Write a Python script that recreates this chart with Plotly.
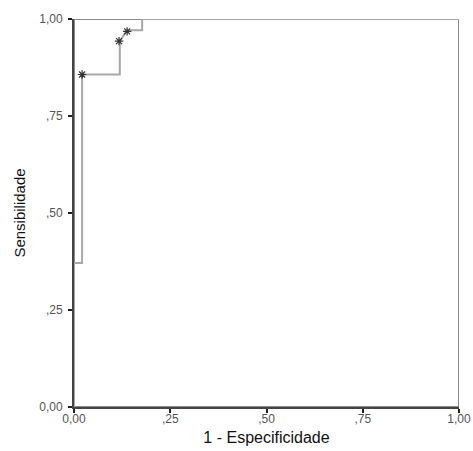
import plotly.graph_objects as go

# ROC curve (step) points
fpr = [0.0, 0.0, 0.021, 0.021, 0.119, 0.119, 0.138, 0.177, 0.177, 1.0]
tpr = [0.0, 0.371, 0.371, 0.857, 0.857, 0.943, 0.971, 0.971, 1.0, 1.0]

# asterisk-marked points
star_x = [0.021, 0.117, 0.138]
star_y = [0.857, 0.943, 0.968]

tick_vals = [0, 0.25, 0.5, 0.75, 1.0]
tick_text = ["0,00", ",25", ",50", ",75", "1,00"]

fig = go.Figure()
fig.add_trace(go.Scatter(x=fpr, y=tpr, mode="lines",
                         line=dict(color="#a8a8a8", width=2), hoverinfo="skip"))
fig.add_trace(go.Scatter(x=star_x, y=star_y, mode="markers",
                         marker=dict(symbol="asterisk-open", size=7, color="#333333",
                                     line=dict(color="#333333", width=1.2)),
                         hoverinfo="skip"))

# frame
fig.add_shape(type="rect", xref="x", yref="y", x0=0, y0=0, x1=1, y1=1,
              line=dict(color="#8a8a8a", width=2), layer="below")

axis_common = dict(
    range=[0, 1], tickvals=tick_vals, ticktext=tick_text, automargin=False,
    showgrid=False, zeroline=False, showline=True, linecolor="#444444", linewidth=2,
    ticks="outside", ticklen=4, tickwidth=2, tickcolor="#222222",
    tickfont=dict(family="Liberation Sans, Arial, sans-serif", size=12, color="#555555"),
)

title_font = dict(family="Liberation Sans, Arial, sans-serif", size=16, color="#111111")

fig.update_layout(
    width=473, height=451,
    margin=dict(l=74, r=14, t=19, b=44),
    paper_bgcolor="white", plot_bgcolor="white",
    showlegend=False,
    xaxis=dict(**axis_common, ticklabelstandoff=-4,
               title=dict(text="1 - Especificidade", standoff=6, font=title_font)),
    yaxis=dict(**axis_common, ticklabelstandoff=3,
               title=dict(text="Sensibilidade", standoff=10,
                          font=dict(family="Liberation Sans, Arial, sans-serif", size=15, color="#111111"))),
)

fig.write_html("out.html")
